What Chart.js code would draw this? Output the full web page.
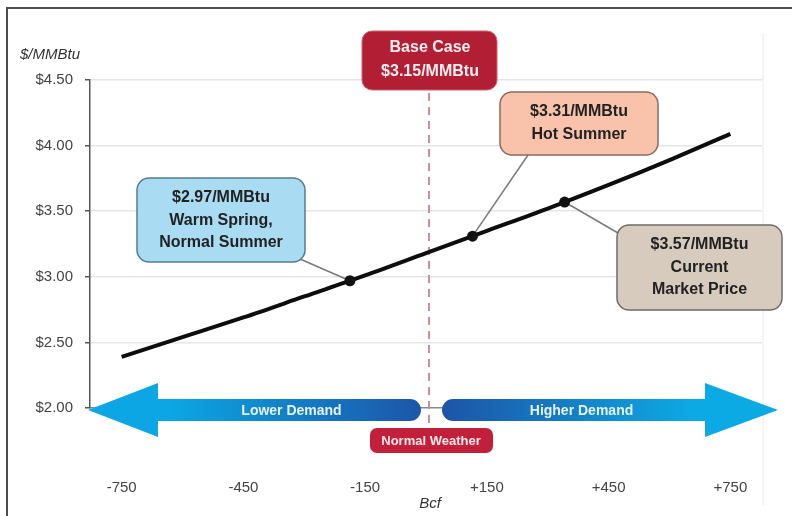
<!DOCTYPE html>
<html>
<head>
<meta charset="utf-8">
<script src="https://cdn.jsdelivr.net/npm/chart.js@4.4.1/dist/chart.umd.min.js"></script>
<style>
  html, body { margin: 0; padding: 0; background: #fff; }
  canvas { display: block; }
</style>
</head>
<body>
<canvas id="chart" width="792" height="516"></canvas>
<script>
// Storage change vs. normal weather (Bcf) and the resulting price curve ($/MMBtu)
const bcfGrid    = [-750, -600, -450, -300, -150, 0, 150, 300, 450, 600, 750];
const priceCurve = [2.39, 2.54, 2.69, 2.85, 3.01, 3.18, 3.35, 3.52, 3.70, 3.89, 4.09];

// Axis ticks
const bcfTicks   = [-750, -450, -150, 150, 450, 750];
const priceTicks = [2.00, 2.50, 3.00, 3.50, 4.00, 4.50];

// Weather scenarios and their prices
const scenarioPrices = [2.97, 3.31, 3.57];
const scenarioLines  = [['Warm Spring,', 'Normal Summer'], ['Hot Summer'], ['Current', 'Market Price']];
const basePrice = 3.15;

// Position each scenario on the price curve (linear inverse of the curve)
function bcfAtPrice(p) {
  for (let i = 0; i < priceCurve.length - 1; i++) {
    const a = priceCurve[i], b = priceCurve[i + 1];
    if (p >= a && p <= b) return bcfGrid[i] + (p - a) / (b - a) * (bcfGrid[i + 1] - bcfGrid[i]);
  }
  return p < priceCurve[0] ? bcfGrid[0] : bcfGrid[bcfGrid.length - 1];
}
const scenarioBcf = scenarioPrices.map(bcfAtPrice);

const FONT = "'Liberation Sans', Arial, sans-serif";

function roundRect(ctx, x, y, w, h, r) {
  ctx.beginPath();
  ctx.moveTo(x + r, y);
  ctx.lineTo(x + w - r, y);
  ctx.arcTo(x + w, y, x + w, y + r, r);
  ctx.lineTo(x + w, y + h - r);
  ctx.arcTo(x + w, y + h, x + w - r, y + h, r);
  ctx.lineTo(x + r, y + h);
  ctx.arcTo(x, y + h, x, y + h - r, r);
  ctx.lineTo(x, y + r);
  ctx.arcTo(x, y, x + r, y, r);
  ctx.closePath();
}

function textLines(ctx, lines, cx, y0, step, font, color) {
  ctx.font = font;
  ctx.fillStyle = color;
  ctx.textAlign = 'center';
  ctx.textBaseline = 'middle';
  lines.forEach((t, i) => ctx.fillText(t, cx, y0 + i * step));
}

function drawArrow(ctx, tipX, tailX, cy, headLen, headHalf, shaftHalf, c0, c1) {
  const dir = Math.sign(tipX - tailX);
  const back = tipX - dir * headLen;
  const r = shaftHalf;
  const g = ctx.createLinearGradient(tipX, 0, tailX, 0);
  g.addColorStop(0, c0);
  g.addColorStop(0.25, c0);
  g.addColorStop(1, c1);
  ctx.beginPath();
  ctx.moveTo(tipX, cy);
  ctx.lineTo(back, cy - headHalf);
  ctx.lineTo(back, cy - shaftHalf);
  ctx.lineTo(tailX + dir * r, cy - shaftHalf);
  ctx.arc(tailX + dir * r, cy, r, -Math.PI / 2, Math.PI / 2, dir > 0);
  ctx.lineTo(back, cy + shaftHalf);
  ctx.lineTo(back, cy + headHalf);
  ctx.closePath();
  ctx.fillStyle = g;
  ctx.fill();
  return (back + tailX) / 2;
}

// Callout boxes: rectangle, colours, leader anchor
const callouts = [
  { x: 137, y: 178, w: 168, h: 84, fill: '#a9dcf2', stroke: '#557c8d', anchor: [300, 259] },
  { x: 500, y: 92,  w: 158, h: 63, fill: '#f9c3ab', stroke: '#8a6b5e', anchor: [528, 155] },
  { x: 617, y: 225, w: 165, h: 85, fill: '#d6cbbd', stroke: '#6f6b66', anchor: [618, 233] }
];

const decorations = {
  id: 'decorations',
  beforeDraw(chart) {
    const { ctx } = chart;
    ctx.save();
    ctx.fillStyle = '#fff';
    ctx.fillRect(0, 0, chart.width, chart.height);
    // frame
    ctx.strokeStyle = '#4d4d4d';
    ctx.lineWidth = 2;
    ctx.beginPath();
    ctx.moveTo(7, chart.height);
    ctx.lineTo(7, 8);
    ctx.lineTo(chart.width, 8);
    ctx.stroke();
    // faint right edge of the plot panel
    ctx.strokeStyle = '#f0f0f0';
    ctx.lineWidth = 1.5;
    ctx.beginPath();
    ctx.moveTo(chart.chartArea.right + 1, 33);
    ctx.lineTo(chart.chartArea.right + 1, 505);
    ctx.stroke();
    ctx.restore();
  },
  beforeDatasetsDraw(chart) {
    const { ctx, scales: { x, y } } = chart;
    const zx = x.getPixelForValue(0);
    ctx.save();
    // normal-weather reference line
    ctx.strokeStyle = '#cf8e97';
    ctx.lineWidth = 2;
    ctx.setLineDash([8, 6]);
    ctx.beginPath();
    ctx.moveTo(zx + 3, 93);
    ctx.lineTo(zx + 3, 428);
    ctx.stroke();
    ctx.setLineDash([]);
    // leader lines from callouts to scenario points
    const pts = chart.getDatasetMeta(1).data;
    ctx.strokeStyle = '#7a7a7a';
    ctx.lineWidth = 1.5;
    callouts.forEach((c, i) => {
      ctx.beginPath();
      ctx.moveTo(c.anchor[0], c.anchor[1]);
      ctx.lineTo(pts[i].x, pts[i].y);
      ctx.stroke();
    });
    ctx.restore();
  },
  afterDatasetsDraw(chart) {
    const { ctx, chartArea, scales: { x, y } } = chart;
    const zx = x.getPixelForValue(0);
    const cy = y.getPixelForValue(2) + 2;
    ctx.save();

    // demand arrows
    const lm = drawArrow(ctx, chartArea.left - 2, zx - 5, cy, 70, 27, 11, '#0ba6e3', '#1c56a8');
    const rm = drawArrow(ctx, chartArea.right + 16, zx + 16, cy, 73, 27, 11, '#0caae5', '#1d54a6');
    textLines(ctx, ['Lower Demand'], lm + 2, cy + 1, 0, "bold 14px " + FONT, '#e4f3fc');
    textLines(ctx, ['Higher Demand'], rm + 8, cy + 1, 0, "bold 14px " + FONT, '#e4f3fc');

    // Normal Weather tag
    roundRect(ctx, zx - 56, 428, 123, 25, 7);
    ctx.fillStyle = '#c21f3a';
    ctx.fill();
    textLines(ctx, ['Normal Weather'], zx + 5, 441, 0, "bold 13px " + FONT, '#fbe9ec');

    // Base case box
    roundRect(ctx, zx - 64, 31, 135, 59, 10);
    ctx.fillStyle = '#b21f35';
    ctx.fill();
    ctx.strokeStyle = '#d3606f';
    ctx.lineWidth = 1;
    ctx.stroke();
    textLines(ctx, ['Base Case', '$' + basePrice.toFixed(2) + '/MMBtu'], zx + 4, 48, 24, "bold 16px " + FONT, '#fbeef0');

    // scenario callouts
    callouts.forEach((c, i) => {
      roundRect(ctx, c.x, c.y, c.w, c.h, 12);
      ctx.fillStyle = c.fill;
      ctx.fill();
      ctx.strokeStyle = c.stroke;
      ctx.lineWidth = 1.5;
      ctx.stroke();
      const lines = ['$' + scenarioPrices[i].toFixed(2) + '/MMBtu'].concat(scenarioLines[i]);
      textLines(ctx, lines, c.x + c.w / 2, c.y + 20, 22.5, "bold 16px " + FONT, '#222');
    });

    // axis titles
    ctx.font = "italic 15px " + FONT;
    ctx.fillStyle = '#333';
    ctx.textAlign = 'left';
    ctx.textBaseline = 'middle';
    ctx.fillText('$/MMBtu', 20, 55);
    ctx.textAlign = 'center';
    ctx.fillText('Bcf', zx + 4, 504);
    ctx.restore();
  }
};

new Chart(document.getElementById('chart'), {
  type: 'scatter',
  data: {
    datasets: [
      {
        data: bcfGrid.map((b, i) => ({ x: b, y: priceCurve[i] })),
        showLine: true,
        borderColor: '#0d0d0d',
        borderWidth: 4,
        pointRadius: 0,
        cubicInterpolationMode: 'monotone',
        order: 2
      },
      {
        data: scenarioBcf.map((b, i) => ({ x: b, y: scenarioPrices[i] })),
        pointRadius: 5.5,
        pointBackgroundColor: '#111',
        pointBorderColor: '#111',
        pointBorderWidth: 0,
        order: 1
      }
    ]
  },
  options: {
    responsive: false,
    animation: false,
    devicePixelRatio: 1,
    layout: { padding: { top: 80, right: 30, left: 0, bottom: 0 } },
    plugins: { legend: { display: false }, tooltip: { enabled: false } },
    scales: {
      x: {
        type: 'linear',
        min: -828,
        max: 828,
        afterBuildTicks: s => { s.ticks = bcfTicks.map(v => ({ value: v })); },
        afterFit: s => { s.height = 108; s.paddingLeft = 0; s.paddingRight = 0; },
        ticks: {
          autoSkip: false,
          maxRotation: 0,
          padding: 71,
          color: '#444',
          font: { family: FONT, size: 15 },
          callback: v => (v > 0 ? '+' + v : String(v))
        },
        grid: { drawOnChartArea: false, drawTicks: false },
        border: { display: true, color: '#8a8a8a', width: 1.5 }
      },
      y: {
        min: 2,
        max: 4.5,
        afterBuildTicks: s => { s.ticks = priceTicks.map(v => ({ value: v })); },
        afterFit: s => { s.width = 90; s.paddingTop = 0; s.paddingBottom = 0; },
        ticks: {
          padding: 12,
          color: '#444',
          font: { family: FONT, size: 15 },
          callback: v => '$' + Number(v).toFixed(2)
        },
        grid: {
          color: c => (c.tick && c.tick.value === 2 ? 'rgba(0,0,0,0)' : '#e6e6e6'),
          lineWidth: 1.5,
          tickLength: 5,
          tickColor: '#555'
        },
        border: { color: '#555', width: 1.5 }
      }
    }
  },
  plugins: [decorations]
});
</script>
</body>
</html>
